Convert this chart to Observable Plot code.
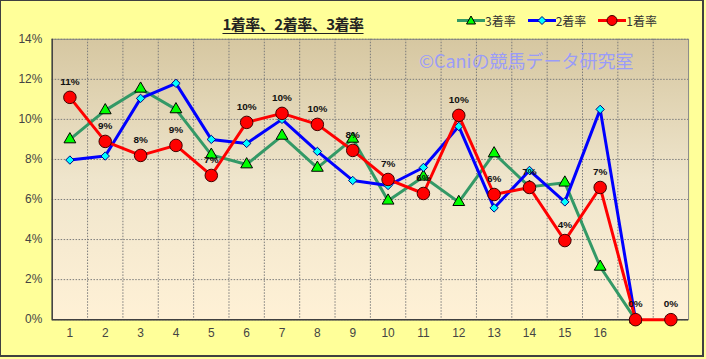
<!DOCTYPE html>
<html><head><meta charset="utf-8">
<script src="https://cdn.jsdelivr.net/npm/d3@7"></script>
<script src="https://cdn.jsdelivr.net/npm/@observablehq/plot@0.6"></script>
<style>
html,body{margin:0;padding:0;background:#FFFF99;}
#wrap{position:relative;width:704px;height:357px;box-sizing:border-box;border:2px solid #404040;border-top-width:1px;border-left-width:1px;background:#FFFF99;overflow:visible;font-family:"Liberation Sans","Noto Sans CJK JP",sans-serif;}
#chart{position:absolute;left:-1px;top:-1px;}
#title{position:absolute;left:0;top:12px;width:584px;text-align:center;font:bold 15px "Noto Sans CJK JP",sans-serif;color:#222;text-decoration:underline;text-underline-offset:3px;letter-spacing:-0.5px;}
#legend{position:absolute;left:456px;top:11px;font:12px "Noto Sans CJK JP",sans-serif;color:#333;display:flex;gap:12px;}
#legend span{display:flex;align-items:center;}
#wm{position:absolute;left:418px;top:46px;font:18px "Noto Sans CJK JP",sans-serif;color:#9A9CF8;white-space:nowrap;}
</style></head>
<body>
<div id="wrap">
<div id="chart"></div>
<div id="title"></div>
<div id="legend"></div>
<div id="wm"></div>
</div>
<script>
const categories = [1,2,3,4,5,6,7,8,9,10,11,12,13,14,15,16,17,18];
const tickLabels = ["1","2","3","4","5","6","7","8","9","10","11","12","13","14","15","16","",""];
const rate1 = [11.1, 8.9, 8.2, 8.7, 7.2, 9.85, 10.3, 9.75, 8.45, 7.0, 6.3, 10.2, 6.25, 6.6, 3.95, 6.6, 0, 0];
const rate2 = [7.97, 8.17, 11.05, 11.8, 9.0, 8.8, 10.0, 8.4, 6.95, 6.7, 7.6, 9.65, 5.58, 7.45, 5.88, 10.5, 0, null];
const rate3 = [9.0, 10.45, 11.53, 10.5, 8.23, 7.75, 9.18, 7.58, 9.03, 5.94, 7.14, 5.87, 8.3, 6.63, 6.84, 2.64, 0, null];
const seriesNames = ["3着率", "2着率", "1着率"];
const yTicks = [0, 2, 4, 6, 8, 10, 12, 14];
const titleText = "1着率、2着率、3着率";
const watermark = "©Caniの競馬データ研究室";

const toRows = arr => categories.map((c, i) => ({x: c, v: arr[i]})).filter(d => d.v != null);
const d1 = toRows(rate1), d2 = toRows(rate2), d3r = toRows(rate3);
const xDomain = [categories[0] - 0.5, categories[categories.length - 1] + 0.5];
const bounds = d3.range(categories[0] + 0.5, categories[categories.length - 1], 1);

const grid = {stroke: "#7a7a7a", strokeOpacity: 1, strokeWidth: 1, strokeDasharray: "1.5,1.5"};

const chart = Plot.plot({
  width: 706, height: 359,
  marginLeft: 52, marginRight: 14, marginTop: 39, marginBottom: 38,
  style: {background: "transparent", fontFamily: "'Liberation Sans','Noto Sans CJK JP',sans-serif"},
  x: {domain: xDomain, axis: null},
  y: {domain: [0, 14], axis: null},
  marks: [
    Plot.frame({fill: "url(#plotbg)", stroke: "#888"}),
    Plot.gridY(yTicks, grid),
    Plot.ruleX(bounds, grid),
    Plot.ruleY([0], {stroke: "#404040", strokeWidth: 1.5}),
    Plot.ruleX([xDomain[0]], {stroke: "#404040", strokeWidth: 1.5}),
    Plot.axisY(yTicks, {tickFormat: d => d + "%", tickSize: 0, tickPadding: 10, fontSize: 12, fill: "#444", label: null}),
    Plot.axisX(categories, {tickFormat: (d, i) => tickLabels[i], tickSize: 0, tickPadding: 9, fontSize: 12, fill: "#444", label: null}),
    Plot.line(d3r, {x: "x", y: "v", stroke: "#339966", strokeWidth: 3}),
    Plot.dot(d3r, {x: "x", y: "v", symbol: "triangle", r: 4.4, fill: "#00FF00", stroke: "#000", strokeWidth: 1}),
    Plot.line(d2, {x: "x", y: "v", stroke: "#0000FF", strokeWidth: 3}),
    Plot.dot(d2, {x: "x", y: "v", symbol: "diamond2", r: 3.8, fill: "#00FFFF", stroke: "#000080", strokeWidth: 1}),
    Plot.line(d1, {x: "x", y: "v", stroke: "#FF0000", strokeWidth: 3}),
    Plot.dot(d1, {x: "x", y: "v", r: 6.3, fill: "#FF0000", stroke: "#400000", strokeWidth: 1}),
    Plot.text(d1, {x: "x", y: "v", text: d => Math.round(d.v) + "%", dy: -16, fontSize: 10, fontWeight: "bold", fill: "#111"})
  ]
});

const svg = d3.select(chart);
const defs = svg.insert("defs", ":first-child");
const g = defs.append("linearGradient").attr("id", "plotbg").attr("x1", 0).attr("y1", 0).attr("x2", 0).attr("y2", 1);
g.append("stop").attr("offset", "0%").attr("stop-color", "#D6C7A1");
g.append("stop").attr("offset", "50%").attr("stop-color", "#EFE5CC");
g.append("stop").attr("offset", "100%").attr("stop-color", "#FFF1D6");
document.getElementById("chart").appendChild(chart);

document.getElementById("title").textContent = titleText;
document.getElementById("wm").textContent = watermark;

const legendDefs = [
  {name: seriesNames[0], line: "#339966", marker: '<path d="M14,3 L18.5,11 L9.5,11 Z" fill="#00FF00" stroke="#000" stroke-width="1"/>'},
  {name: seriesNames[1], line: "#0000FF", marker: '<path d="M14,3.5 L18,7.5 L14,11.5 L10,7.5 Z" fill="#00FFFF" stroke="#000080" stroke-width="1"/>'},
  {name: seriesNames[2], line: "#FF0000", marker: '<circle cx="14" cy="7.5" r="5" fill="#FF0000" stroke="#400000" stroke-width="1"/>'}
];
const leg = document.getElementById("legend");
legendDefs.forEach(s => {
  const sp = document.createElement("span");
  sp.innerHTML = `<svg width="28" height="15"><line x1="0" x2="28" y1="7.5" y2="7.5" stroke="${s.line}" stroke-width="3"/>${s.marker}</svg><span>${s.name}</span>`;
  leg.appendChild(sp);
});
</script>
</body></html>
